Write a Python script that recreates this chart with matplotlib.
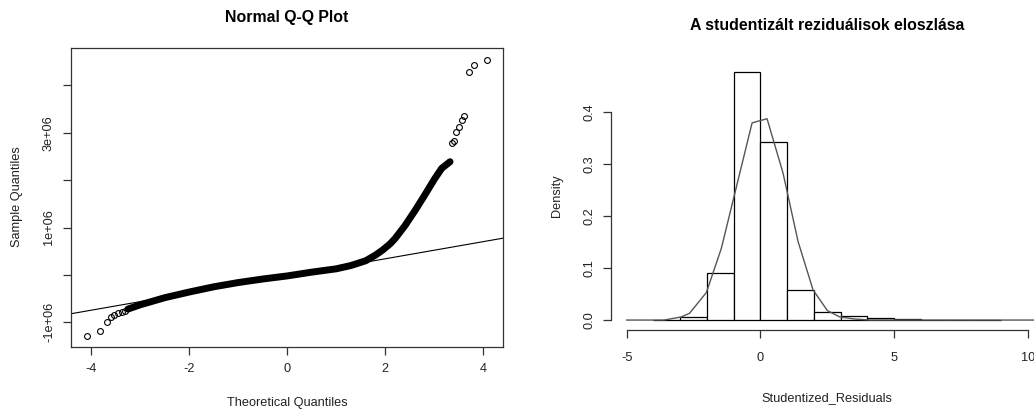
import matplotlib
matplotlib.use('Agg')
import matplotlib.pyplot as plt
import numpy as np

plt.rcParams['font.family'] = ['Liberation Sans', 'DejaVu Sans']
plt.rcParams['axes.unicode_minus'] = False

# Q-Q plot values (sample quantiles in millions)
qq_low_x = [-4.09, -3.82, -3.68, -3.60, -3.53, -3.46, -3.38, -3.30]
qq_low_y = [-1.28, -1.175, -0.985, -0.89, -0.84, -0.81, -0.78, -0.76]
qq_band_x = [-3.25, -3.0, -2.5, -2.0, -1.5, -1.0, -0.5, 0.0, 0.5, 1.0, 1.3, 1.6,
             1.8, 1.95, 2.1, 2.2, 2.4, 2.6, 2.8, 3.0, 3.15, 3.32]
qq_band_y = [-0.72, -0.63, -0.48, -0.36, -0.25, -0.16, -0.085, -0.02, 0.06, 0.13, 0.20, 0.30,
             0.42, 0.53, 0.66, 0.77, 1.04, 1.35, 1.68, 2.02, 2.25, 2.39]
qq_high_x = [3.37, 3.40, 3.44, 3.51, 3.56, 3.60, 3.70, 3.81, 4.08]
qq_high_y = [2.78, 2.82, 3.02, 3.12, 3.26, 3.36, 4.29, 4.43, 4.54]
qq_intercept = -0.02
qq_slope = 0.181

# histogram of studentized residuals
bin_edges = [-4, -3, -2, -1, 0, 1, 2, 3, 4, 5, 6, 7, 8, 9]
hist_density = [0.001, 0.006, 0.091, 0.477, 0.342, 0.058, 0.016, 0.008, 0.004,
                0.002, 0.001, 0.001, 0.001]
dens_x = [-5.0, -3.61, -2.96, -2.65, -2.02, -1.46, -0.31, 0.25, 0.85, 1.41, 1.97,
          2.51, 2.97, 3.53, 4.1, 11.0]
dens_y = [0.0, 0.0, 0.006, 0.013, 0.053, 0.138, 0.379, 0.387, 0.282, 0.151, 0.058,
          0.018, 0.006, 0.002, 0.0, 0.0]

W, H = 1034, 411
fig = plt.figure(figsize=(W / 100, H / 100), dpi=100)

def px(x0, y0, x1, y1):
    # pixel box -> figure fraction rect
    return [x0 / W, 1 - y1 / H, (x1 - x0) / W, (y1 - y0) / H]

fs = 9.2
ink = '#222222'

# ---- left: Normal Q-Q plot
ax1 = fig.add_axes(px(71, 48, 503, 347))
m = 1e6
ax1.plot(np.array(qq_band_x), np.array(qq_band_y) * m, color='black', lw=5,
         solid_capstyle='round', solid_joinstyle='round')
ax1.plot(qq_low_x, np.array(qq_low_y) * m, 'o', mfc='none', mec='black', ms=4.2, mew=0.8)
ax1.plot(qq_high_x, np.array(qq_high_y) * m, 'o', mfc='none', mec='black', ms=4.2, mew=0.8)
ax1.axline((0, qq_intercept * m), slope=qq_slope * m, color='black', lw=0.8)
ax1.set_xlim(-4.41, 4.40)
ax1.set_ylim(-1.52 * m, 4.79 * m)
ax1.set_xticks([-4, -2, 0, 2, 4])
ax1.set_xticklabels(['-4', '-2', '0', '2', '4'])
ax1.set_yticks([-1e6, 0, 1e6, 2e6, 3e6, 4e6])
ax1.set_yticklabels(['-1e+06', '', '1e+06', '', '3e+06', ''])
for s in ax1.spines.values():
    s.set_color('#333333')
    s.set_linewidth(0.9)
ax1.tick_params(axis='x', length=6, width=0.9, color='#333333', pad=5.5,
                labelsize=fs, labelcolor=ink)
ax1.tick_params(axis='y', length=6, width=0.9, color='#333333', pad=5.6,
                labelsize=fs, labelcolor=ink, labelrotation=90)
for t in ax1.get_yticklabels():
    t.set_va('center')

fig.text(287 / W, 1 - 17.3 / H, 'Normal Q-Q Plot', ha='center', va='center',
         fontsize=11.4, fontweight='bold', color='black')
fig.text(287 / W, 1 - 403 / H, 'Theoretical Quantiles', ha='center', va='center',
         fontsize=fs, color=ink)
fig.text(17 / W, 1 - 197 / H, 'Sample Quantiles', ha='center', va='center',
         fontsize=fs, color=ink, rotation=90)

# ---- right: histogram with density line
ax2 = fig.add_axes(px(610.7, 62, 1043.7, 330))
ax2.bar(bin_edges[:-1], hist_density, width=np.diff(bin_edges), align='edge',
        color='white', edgecolor='black', linewidth=0.9, zorder=2)
ax2.plot(dens_x, dens_y, color='#555555', lw=1.0, zorder=3)
ax2.set_xlim(-5.6, 10.6)
ax2.set_ylim(-0.0191, 0.496)
ax2.spines['top'].set_visible(False)
ax2.spines['right'].set_visible(False)
ax2.spines['left'].set_bounds(0, 0.4)
ax2.spines['bottom'].set_bounds(-5, 10)
for s in ('left', 'bottom'):
    ax2.spines[s].set_color('#333333')
    ax2.spines[s].set_linewidth(0.9)
ax2.set_xticks([-5, 0, 5, 10])
ax2.set_xticklabels(['-5', '0', '5', '10'])
ax2.set_yticks([0.0, 0.1, 0.2, 0.3, 0.4])
ax2.set_yticklabels(['0.0', '0.1', '0.2', '0.3', '0.4'])
ax2.tick_params(axis='x', length=6, width=0.9, color='#333333', pad=9.9,
                labelsize=fs, labelcolor=ink)
ax2.tick_params(axis='y', length=6, width=0.9, color='#333333', pad=5.3,
                labelsize=fs, labelcolor=ink, labelrotation=90)
for t in ax2.get_yticklabels():
    t.set_va('center')

fig.text(826.7 / W, 1 - 25 / H, 'A studentizált reziduálisok eloszlása', ha='center',
         va='center', fontsize=11.4, fontweight='bold', color='black')
fig.text(826.7 / W, 1 - 398 / H, 'Studentized_Residuals', ha='center', va='center',
         fontsize=fs, color=ink)
fig.text(557 / W, 1 - 196 / H, 'Density', ha='center', va='center',
         fontsize=fs, color=ink, rotation=90)

fig.savefig('out.png', dpi=100)
